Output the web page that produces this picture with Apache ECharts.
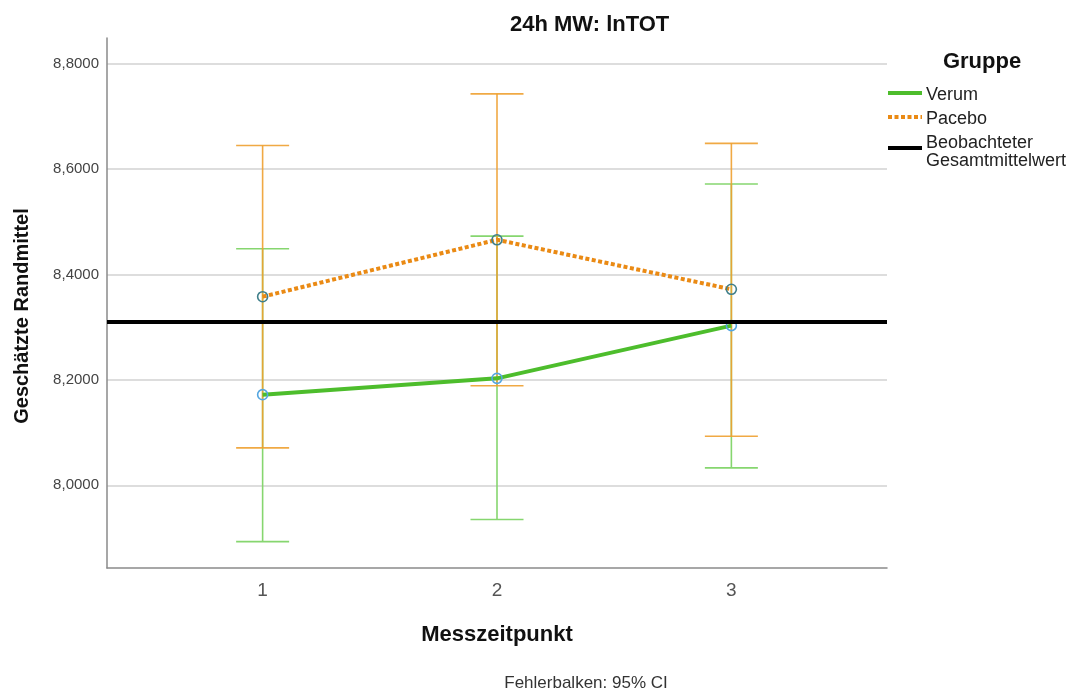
<!DOCTYPE html>
<html>
<head>
<meta charset="utf-8">
<title>24h MW: lnTOT</title>
<script src="https://cdn.jsdelivr.net/npm/echarts@6/dist/echarts.min.js"></script>
<style>
  html, body { margin: 0; padding: 0; background: #fff; }
  #chart { width: 1076px; height: 695px; }
</style>
</head>
<body>
<div id="chart"></div>
<script>
// Messzeitpunkte
var zeitpunkte = [1, 2, 3];
var yTicks = [8.0, 8.2, 8.4, 8.6, 8.8];

// geschaetzte Randmittel
var verum = [8.172, 8.203, 8.303];
var pacebo = [8.358, 8.466, 8.372];

// 95% CI
var verumLow = [7.893, 7.935, 8.033];
var verumHigh = [8.449, 8.473, 8.572];
var paceboLow = [8.071, 8.189, 8.093];
var paceboHigh = [8.645, 8.743, 8.649];

var gesamtMittel = 8.310;

var FONT = '"Liberation Sans", Arial, sans-serif';

function pairs(ys) {
  return zeitpunkte.map(function (x, i) { return [x, ys[i]]; });
}
function ciData(lo, hi) {
  return zeitpunkte.map(function (x, i) { return [x, lo[i], hi[i]]; });
}

// Fehlerbalken mit Kappen
function errorBar(color) {
  return function (params, api) {
    var x = api.value(0);
    var p1 = api.coord([x, api.value(1)]);
    var p2 = api.coord([x, api.value(2)]);
    var w = 26.5;
    var st = { stroke: color, lineWidth: 1.6 };
    return {
      type: 'group',
      children: [
        { type: 'line', shape: { x1: p1[0], y1: p1[1], x2: p2[0], y2: p2[1] }, style: st },
        { type: 'line', shape: { x1: p1[0] - w, y1: p1[1], x2: p1[0] + w, y2: p1[1] }, style: st },
        { type: 'line', shape: { x1: p2[0] - w, y1: p2[1], x2: p2[0] + w, y2: p2[1] }, style: st }
      ]
    };
  };
}

var myChart = echarts.init(document.getElementById('chart'));

var option = {
  backgroundColor: '#fff',
  animation: false,
  title: {
    text: '24h MW: lnTOT',
    left: 505,
    top: 9,
    textStyle: { fontFamily: FONT, fontSize: 22, fontWeight: 'bold', color: '#111' }
  },
  grid: { left: 107, right: 189, top: 38, bottom: 127 },
  xAxis: {
    type: 'value',
    min: 0.336,
    max: 3.664,
    name: 'Messzeitpunkt',
    nameLocation: 'middle',
    nameGap: 56,
    nameTextStyle: { fontFamily: FONT, fontSize: 22, fontWeight: 'bold', color: '#111' },
    axisLine: { lineStyle: { color: '#8a8a8a', width: 1.5 } },
    axisTick: { show: false, customValues: zeitpunkte },
    axisLabel: {
      customValues: zeitpunkte,
      margin: 13,
      fontFamily: FONT, fontSize: 19, color: '#555'
    },
    splitLine: { show: false }
  },
  yAxis: {
    type: 'value',
    min: 7.843,
    max: 8.849,
    name: 'Geschätzte Randmittel',
    nameLocation: 'middle',
    nameGap: 75,
    nameTextStyle: {
      fontFamily: FONT, fontSize: 20, fontWeight: 'bold', color: '#111',
      padding: [0, 26, 0, 0]
    },
    axisLine: { show: true, lineStyle: { color: '#8a8a8a', width: 1.5 } },
    axisTick: { show: false, customValues: yTicks },
    axisLabel: {
      customValues: yTicks,
      margin: 8,
      fontFamily: FONT, fontSize: 15, color: '#444',
      formatter: function (v) { return v.toFixed(4).replace('.', ','); }
    },
    splitLine: { show: true, lineStyle: { color: '#d2d2d2', width: 1.5 } }
  },
  series: [
    {
      name: 'Verum CI',
      type: 'custom',
      renderItem: errorBar('#86d66f'),
      data: ciData(verumLow, verumHigh),
      z: 2
    },
    {
      name: 'Pacebo CI',
      type: 'custom',
      renderItem: errorBar('rgba(238,160,48,0.9)'),
      data: ciData(paceboLow, paceboHigh),
      z: 3
    },
    {
      name: 'Verum',
      type: 'line',
      data: pairs(verum),
      symbol: 'circle',
      symbolSize: 10,
      itemStyle: { color: 'rgba(255,255,255,0)', borderColor: '#55a6e0', borderWidth: 1.6 },
      lineStyle: { color: '#4dbd2c', width: 4 },
      z: 4,
      markLine: {
        silent: true,
        symbol: 'none',
        label: { show: false },
        lineStyle: { color: '#000', width: 4, type: 'solid' },
        data: [{ yAxis: gesamtMittel }]
      }
    },
    {
      name: 'Pacebo',
      type: 'line',
      data: pairs(pacebo),
      symbol: 'circle',
      symbolSize: 10,
      itemStyle: { color: 'rgba(255,255,255,0)', borderColor: '#3f7f8a', borderWidth: 1.6 },
      lineStyle: { color: '#ea8a14', width: 4, type: [4, 2.5], cap: 'butt' },
      z: 5
    }
  ],
  graphic: [
    // Legende
    { type: 'text', x: 982, y: 62,
      style: { text: 'Gruppe', font: 'bold 22px ' + FONT, fill: '#111', align: 'center', verticalAlign: 'middle' } },
    { type: 'line', shape: { x1: 888, y1: 93, x2: 922, y2: 93 },
      style: { stroke: '#4dbd2c', lineWidth: 4 } },
    { type: 'text', x: 926, y: 95,
      style: { text: 'Verum', font: '18px ' + FONT, fill: '#222', verticalAlign: 'middle' } },
    { type: 'line', shape: { x1: 888, y1: 117, x2: 922, y2: 117 },
      style: { stroke: '#ea8a14', lineWidth: 4, lineDash: [4, 2.5] } },
    { type: 'text', x: 926, y: 119,
      style: { text: 'Pacebo', font: '18px ' + FONT, fill: '#222', verticalAlign: 'middle' } },
    { type: 'line', shape: { x1: 888, y1: 148, x2: 922, y2: 148 },
      style: { stroke: '#000', lineWidth: 4 } },
    { type: 'text', x: 926, y: 152,
      style: { text: 'Beobachteter\nGesamtmittelwert', font: '18px ' + FONT, fill: '#222', lineHeight: 18, verticalAlign: 'middle' } },
    // Fussnote
    { type: 'text', x: 586, y: 683,
      style: { text: 'Fehlerbalken: 95% CI', font: '17px ' + FONT, fill: '#333', align: 'center', verticalAlign: 'middle' } }
  ]
};

myChart.setOption(option);
</script>
</body>
</html>
